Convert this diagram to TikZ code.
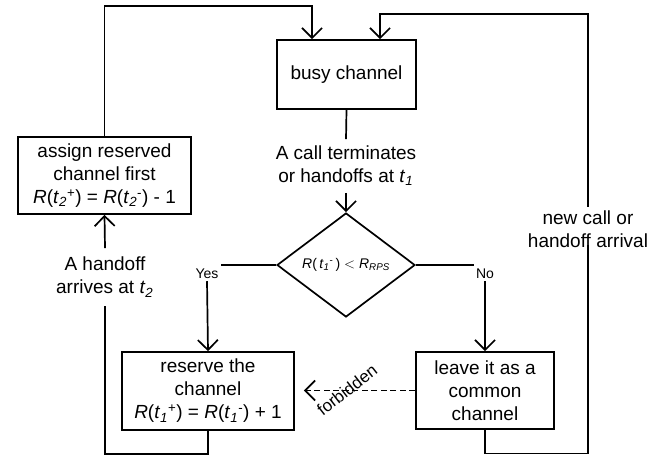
\documentclass[tikz,border=0pt]{standalone}
\usepackage{fontspec}
\setmainfont{Liberation Sans}
\usetikzlibrary{arrows.meta,shapes.geometric}

% italic time variable with subscript and optional superscript
\newcommand\tv[2]{\textit{t}\textsubscript{\textit{#1}}\textsuperscript{#2}}

\begin{document}
\begin{tikzpicture}[x=1pt,y=-1pt,line width=1.7pt,
  box/.style={draw,rectangle,align=center,inner sep=0pt,font=\fontsize{19}{23}\selectfont},
  lbl/.style={align=center,inner xsep=1pt,font=\fontsize{19}{23}\selectfont},
  small/.style={inner sep=1.5pt,font=\fontsize{14}{16}\selectfont},
  arr/.style={-{Straight Barb[length=10pt,width=20pt]}},
]
\useasboundingbox (0,0) rectangle (660,458);

% process boxes
\node[box,minimum width=139pt,minimum height=69pt] (busy) at (346.5,74.5) {busy channel};
\node[box,minimum width=173pt,minimum height=77pt] (assign) at (104.5,175.5)
  {assign reserved\\channel first\\\textit{R}(\tv{2}{+}) = \textit{R}(\tv{2}{-}) - 1};
\node[box,minimum width=172pt,minimum height=78pt] (reserve) at (208,391)
  {reserve the\\channel\\\textit{R}(\tv{1}{+}) = \textit{R}(\tv{1}{-}) + 1};
\node[box,minimum width=138pt,minimum height=77pt] (leave) at (485,390.5)
  {leave it as a\\common\\channel};

% decision
\node[draw,diamond,inner sep=0pt,minimum width=138pt,minimum height=104pt,
  font=\fontsize{14}{16}\selectfont] (dia) at (346,265)
  {\raisebox{-2pt}{\textit{R}(\,\tv{1}{-}\,) {$<$} \textit{R}\textsubscript{\textit{RPS}}}};

% edge labels
\node[lbl,inner ysep=6pt] (call) at (346,166) {A call terminates\\or handoffs at \tv{1}{}};
\node[lbl,inner ysep=8pt] (hand) at (105,277) {A handoff\\arrives at \tv{2}{}};
\node[lbl,inner ysep=3pt] (newc) at (588,229) {new call or\\handoff arrival};
\node[small] (yes) at (207,274) {Yes};
\node[small] (no) at (485,274) {No};

\coordinate (topl) at (312,6);
\coordinate (topr) at (380,14);

% connectors
\draw (busy.south) -- (call.north);
\draw[arr] (call.south) -- (dia.north);

\draw (dia.west) -- (dia.west -| yes.east);
\draw[arr] (yes.south) -- (reserve.north);
\draw (dia.east) -- (dia.east -| no.west);
\draw[arr] (no.south) -- (leave.north);

\draw (reserve.south) -- ++(0,23) -| (hand.south);
\draw[arr] (hand.north) -- (assign.south);
\draw[arr] (assign.north) |- (topl) -- (topl |- busy.north);

\draw (leave.south) -- ++(0,23.5) -| ([yshift=6pt]newc.south);
\draw[arr] (newc.north) |- (topr) -- (topr |- busy.north);

\draw[arr,dash pattern=on 6pt off 3.5pt,shorten >=9pt] (leave.west) -- (leave.west -| reserve.east);
\node[rotate=38,inner sep=0pt,font=\fontsize{17}{19}\selectfont] (forb) at (347,390) {forbidden};
\end{tikzpicture}
\end{document}
